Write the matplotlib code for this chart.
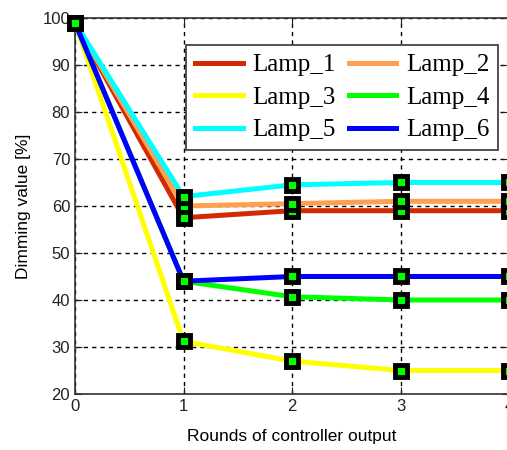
import numpy as np
import matplotlib
matplotlib.use("Agg")
import matplotlib.pyplot as plt

rounds = [0, 1, 2, 3, 4]
lamp_1 = [99, 57.5, 59, 59, 59]
lamp_2 = [99, 60, 60.5, 61, 61]
lamp_3 = [99, 31.2, 27, 25, 25]
lamp_4 = [99, 44, 40.7, 40, 40]
lamp_5 = [99, 62, 64.5, 65, 65]
lamp_6 = [99, 44, 45, 45, 45]

series = [lamp_1, lamp_2, lamp_3, lamp_4, lamp_5, lamp_6]
labels = ["Lamp_1", "Lamp_2", "Lamp_3", "Lamp_4", "Lamp_5", "Lamp_6"]
colors = ["#D42A00", "#FFA050", "#FFFF00", "#00FF00", "#00FFFF", "#0000FF"]

plt.rcParams["font.family"] = ["Liberation Sans", "DejaVu Sans"]

fig = plt.figure(figsize=(5.07, 4.5), dpi=100)
ax = fig.add_axes([75/507, 1-394/450, 434/507, 376/450])

handles = []
for vals, lab, c in zip(series, labels, colors):
    h, = ax.plot(rounds, vals, color=c, lw=3.6, label=lab, zorder=3)
    handles.append(h)
for vals in series:
    ax.plot(rounds, vals, ls="none", marker="s", ms=8.5, mfc="#00FF00",
            mec="black", mew=3.5, zorder=4, clip_on=False)

ax.set_xlim(0, 4)
ax.set_ylim(20, 100)
ax.set_xticks(rounds)
ax.set_yticks(np.arange(20, 101, 10))
ax.grid(True, color="black", ls=(0, (3, 3)), lw=1)
ax.tick_params(direction="in", length=5, labelsize=12, colors="#222222",
               top=True, right=True)
for s in ax.spines.values():
    s.set_color("#333333")
    s.set_linewidth(1.2)

ax.set_xlabel("Rounds of controller output", fontsize=12.5, labelpad=11)
ax.set_ylabel("Dimming value [%]", fontsize=12.5, labelpad=8)

# row-major legend order like the original
order = [0, 2, 4, 1, 3, 5]
leg = ax.legend([handles[i] for i in order], [labels[i] for i in order],
                ncol=2, loc="upper right", bbox_to_anchor=(0.975, 0.928),
                borderaxespad=0, fancybox=False, edgecolor="#333333",
                framealpha=1, handlelength=1.9, columnspacing=0.5,
                handletextpad=0.4, labelspacing=0.4, borderpad=0.35,
                prop={"family": "Liberation Serif", "size": 18})
leg.get_frame().set_linewidth(1.2)
leg.set_zorder(5)

fig.savefig("out.png", dpi=100)
